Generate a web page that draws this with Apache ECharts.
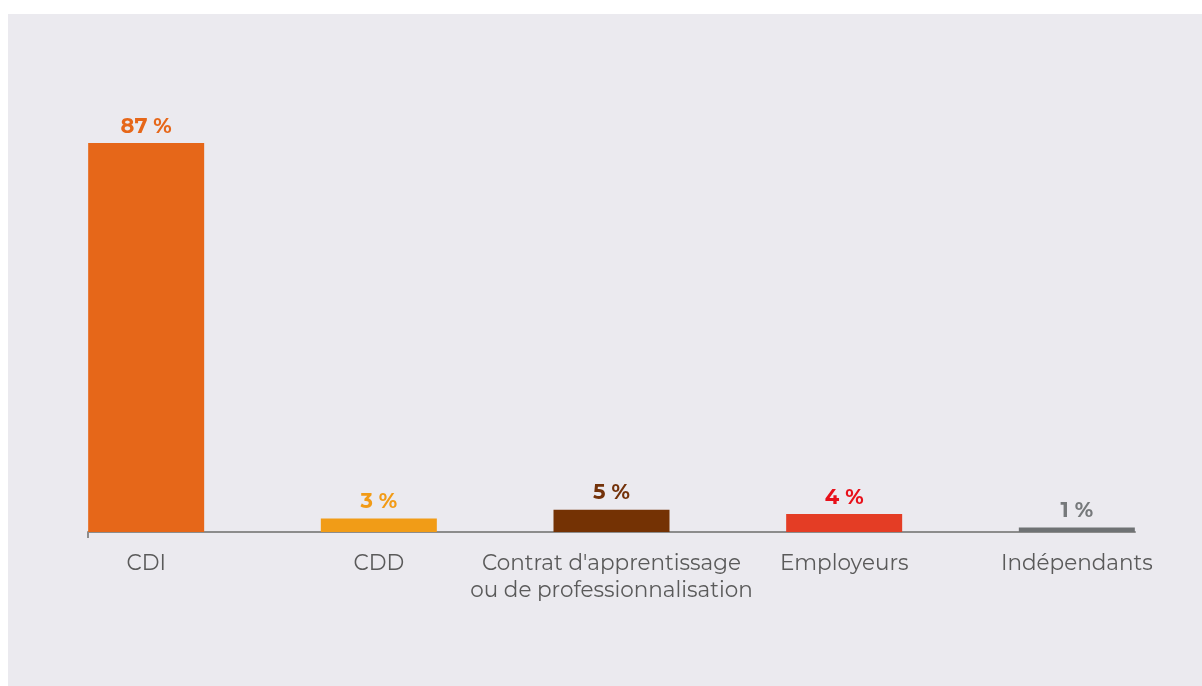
<!DOCTYPE html>
<html>
<head>
<meta charset="utf-8">
<script src="https://cdn.jsdelivr.net/npm/echarts@6/dist/echarts.min.js"></script>
<style>
  html, body { margin: 0; padding: 0; background: #ffffff; }
  #chart { position: absolute; left: 8px; top: 14px; width: 1194px; height: 672px; }
</style>
</head>
<body>
<div id="chart"></div>
<script>
// Contract types and their shares (%)
const categories = ['CDI', 'CDD', "Contrat d'apprentissage\nou de professionnalisation", 'Employeurs', 'Indépendants'];
const values = [87, 3, 5, 4, 1];
const barColors = ['#e66719', '#f19c17', '#743204', '#e43d25', '#6f7274'];
const labelColors = ['#e66719', '#f29b16', '#73320a', '#e8101a', '#76797b'];

const FONT = "Montserrat, 'Noto Sans', 'Open Sans', sans-serif";

const chart = echarts.init(document.getElementById('chart'));
chart.setOption({
  backgroundColor: '#ebeaef',
  animation: false,
  grid: { left: 80, right: 67, top: 71, bottom: 154, containLabel: false },
  xAxis: {
    type: 'value',
    min: -0.25,
    max: categories.length - 0.75,
    interval: 0.25,
    splitLine: { show: false },
    axisLine: { show: true, lineStyle: { color: '#8c8c8c', width: 2 } },
    axisTick: { show: true, customValues: [-0.25], length: 6, lineStyle: { color: '#8c8c8c', width: 2 } },
    axisLabel: {
      customValues: categories.map((_, i) => i),
      formatter: v => categories[Math.round(v)] || '',
      color: '#5a5a5a',
      fontFamily: FONT,
      fontSize: 21.5,
      lineHeight: 27,
      margin: 18,
      align: 'center',
      verticalAlign: 'top'
    }
  },
  yAxis: {
    type: 'value',
    min: 0,
    max: 100,
    show: false
  },
  series: [{
    type: 'bar',
    barWidth: 116,
    data: values.map((v, i) => ({
      value: [i, v],
      itemStyle: { color: barColors[i] },
      label: { color: labelColors[i] }
    })),
    label: {
      show: true,
      position: 'top',
      distance: 6,
      formatter: p => p.value[1] + ' %',
      fontFamily: FONT,
      fontWeight: 'bold',
      fontSize: 21
    }
  }]
});
</script>
</body>
</html>
